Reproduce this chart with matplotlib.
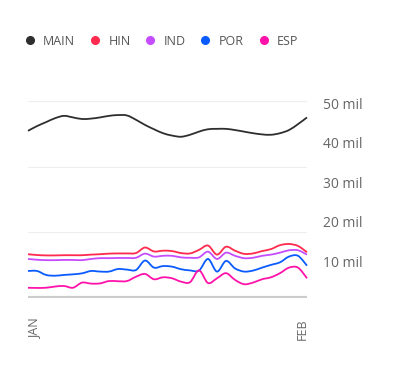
import numpy as np
import matplotlib
matplotlib.use("Agg")
import matplotlib.pyplot as plt
from matplotlib.path import Path
from matplotlib.patches import PathPatch
from matplotlib.lines import Line2D
from matplotlib.transforms import ScaledTranslation

plt.rcParams['font.family'] = ['Open Sans', 'DejaVu Sans']

# one value per day, Jan 1 .. Feb 1 (millions)
days = list(range(32))
main = [42.4, 43.6, 44.6, 45.6, 46.2, 45.8, 45.4, 45.5, 45.8, 46.2, 46.4, 46.3,
        45.2, 43.9, 42.8, 41.8, 41.2, 40.9, 41.4, 42.2, 42.8, 42.9, 42.9, 42.6,
        42.2, 41.8, 41.5, 41.4, 41.8, 42.6, 44.1, 45.8]
hin = [11.1, 10.9, 10.8, 10.8, 10.85, 10.85, 10.85, 11.0, 11.1, 11.25, 11.3, 11.3,
       11.4, 12.8, 11.8, 12.0, 11.9, 11.4, 11.3, 12.2, 13.3, 11.0, 13.0, 12.0,
       11.2, 11.3, 11.9, 12.4, 13.4, 13.7, 13.2, 11.6]
ind = [9.9, 9.7, 9.6, 9.6, 9.65, 9.65, 9.6, 9.9, 10.1, 10.1, 10.15, 10.15,
       10.2, 11.25, 10.5, 10.7, 10.7, 10.3, 10.2, 10.3, 11.75, 9.9, 11.5, 10.7,
       10.1, 10.2, 10.7, 11.0, 11.5, 12.1, 12.1, 11.0]
por = [6.85, 6.85, 5.85, 5.65, 5.85, 6.0, 6.25, 6.85, 6.7, 6.7, 7.35, 7.2,
       7.1, 9.5, 7.7, 8.1, 7.95, 7.3, 7.0, 6.95, 9.9, 6.7, 9.4, 7.5,
       6.7, 6.95, 7.7, 8.4, 9.05, 10.5, 10.7, 8.2]
esp = [2.6, 2.55, 2.6, 2.9, 3.05, 2.6, 3.9, 3.65, 3.7, 4.3, 4.25, 4.3,
       5.4, 6.1, 4.75, 5.25, 5.0, 4.15, 4.0, 7.0, 3.8, 5.0, 6.3, 4.6,
       3.5, 3.9, 4.75, 5.25, 6.3, 7.7, 7.7, 5.0]

names = ['MAIN', 'HIN', 'IND', 'POR', 'ESP']
series = [main, hin, ind, por, esp]
colors = ['#2e2e2e', '#ff2a4d', '#c54cff', '#0a5bff', '#ff12a9']
yticks = [10, 20, 30, 40, 50]
ylabels = ['10 mil', '20 mil', '30 mil', '40 mil', '50 mil']
xticks = [0, 31]
xlabels = ['JAN', 'FEB']


def smooth_path(x, y):
    # catmull-rom through the points, drawn as cubic beziers
    p = np.column_stack([x, y]).astype(float)
    n = len(p)
    verts = [p[0]]
    codes = [Path.MOVETO]
    for i in range(n - 1):
        p0 = p[i - 1] if i > 0 else p[i]
        p3 = p[i + 2] if i + 2 < n else p[i + 1]
        c1 = p[i] + (p[i + 1] - p0) / 6
        c2 = p[i + 1] - (p3 - p[i]) / 6
        verts += [c1, c2, p[i + 1]]
        codes += [Path.CURVE4] * 3
    return Path(verts, codes)


fig = plt.figure(figsize=(4, 3.85), dpi=100)
ax = fig.add_axes([0.07, 0.226, 0.6975, 0.512])

for v in [50 / 3, 100 / 3, 50]:
    ax.axhline(v, color='#eeeeee', lw=0.8, zorder=0)
ax.axhline(0, color='#cccccc', lw=3, zorder=0)

for s, c in zip(series, colors):
    ax.add_patch(PathPatch(smooth_path(days, s), fill=False, edgecolor=c,
                           lw=1.3, clip_on=False, zorder=2))

ax.set_xlim(0, 31)
ax.set_ylim(0, 50)
for sp in ax.spines.values():
    sp.set_visible(False)

ax.yaxis.tick_right()
ax.set_yticks(yticks)
ax.set_yticklabels(ylabels)
ax.tick_params(axis='y', length=0, pad=11.5, labelsize=10, labelcolor='#666666')
for lab in ax.get_yticklabels():
    lab.set_transform(lab.get_transform() + ScaledTranslation(0, -2.5 / 100, fig.dpi_scale_trans))

ax.set_xticks(xticks)
ax.set_xticklabels(xlabels, rotation=90, va='top', ha='center')
ax.tick_params(axis='x', length=0, pad=14.5, labelsize=9, labelcolor='#666666')
shifts = [7, -5]
for lab, dx in zip(ax.get_xticklabels(), shifts):
    lab.set_transform(lab.get_transform() + ScaledTranslation(dx / 100, 0, fig.dpi_scale_trans))

handles = [Line2D([], [], marker='o', linestyle='', color=c, markersize=5.5) for c in colors]
leg = fig.legend(handles, names, loc='center left', bbox_to_anchor=(0.03, 0.893),
                 ncol=5, frameon=False, fontsize=9, handletextpad=0.6,
                 columnspacing=1.05, handlelength=1.0, labelcolor='#555555')

fig.savefig('out.png', dpi=100)
